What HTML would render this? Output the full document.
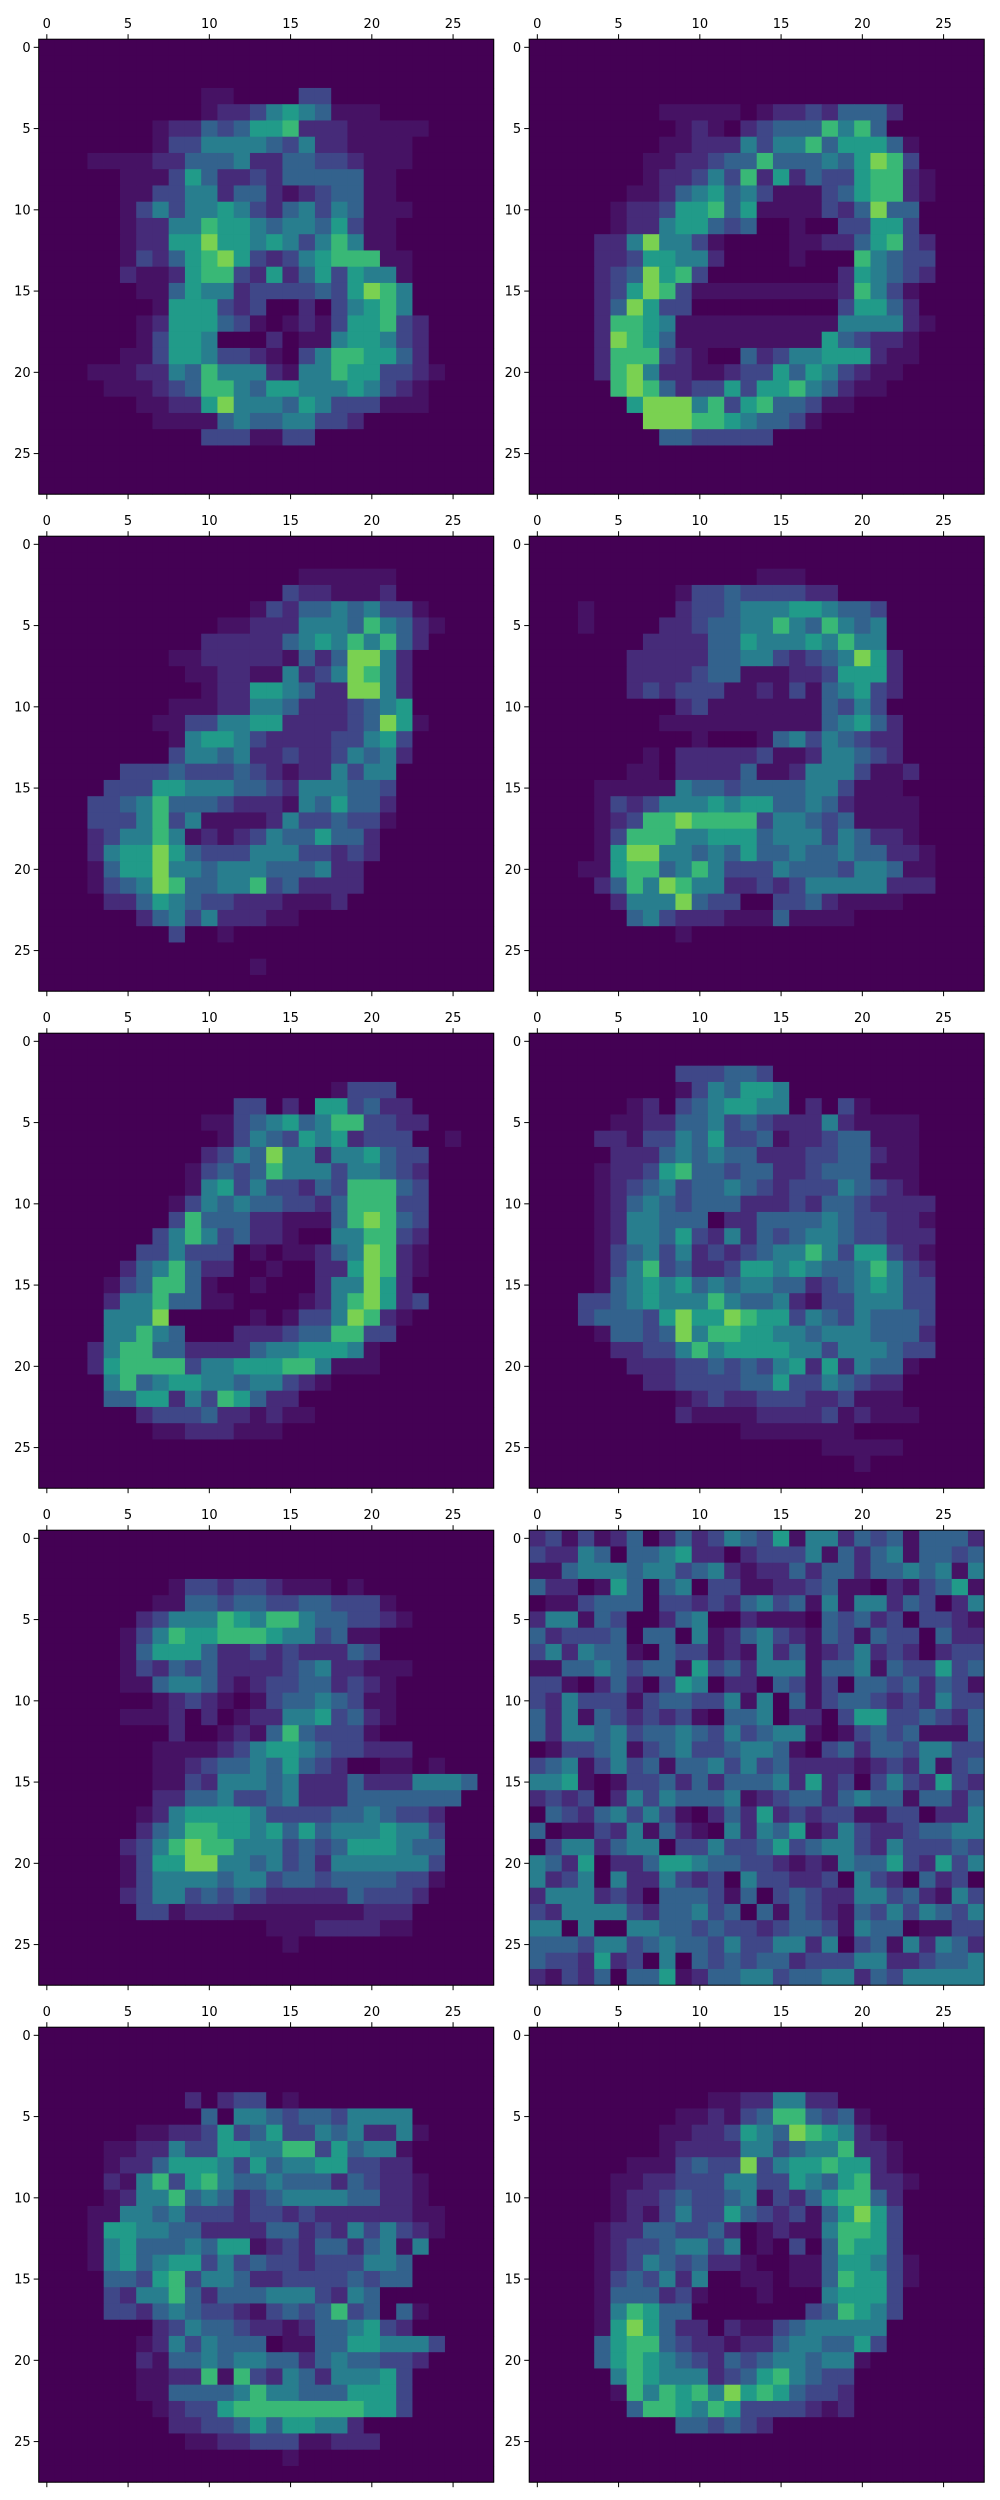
<!DOCTYPE html>
<html><head><meta charset="utf-8"><style>
html,body{margin:0;padding:0;background:#fff;}
svg{display:block;}
text{font-family:"DejaVu Sans","Liberation Sans",sans-serif;font-size:13px;fill:#000;}
</style></head><body>
<svg id="fig" width="1000" height="2500" viewBox="0 0 1000 2500" xmlns="http://www.w3.org/2000/svg"></svg>
<script>
// Pixel intensities (digit levels 0-8) for each 28x28 image, rows top to bottom
const imgA=["","","","0000000000110000330000000000","0000000000122356541110000000","0000000122434667222111110000","0000000133555543522111100000","0001111224445224433211100000","0000011136422324444411000000","0000011335524421234411000000","00000135355653245354111","0000012255766545546311","0000012266866565357511","00000132467863235677711","00000211267732624636551","00000011465523333436875","00000001666323002035675","000000126664310121366732","000000136650002011566532","000001136653321035776642","0001112254755521557663321","000011123477546655565321","000000112268555465333111","00000001111454455332","00000000003331133","","",""];
const imgB=["","","","","00000000111110122324442","0000000001210234447574","000000001122253557466641","000000011223447444546873","0000000122353726243367721","0000001124564531113467721","000001223667461111324844","000001225664340010033663","0000225855310000112246732","0000223665520000100075433","0000234867300000000265432","000023687311111111127531","000024863300000000036642","0000277651111111111555521","000028764111111111643221","000027773210042355666211","00002785221123364653211","0000078742336366754211","00000068885736744311","000000088877654431","000000004433333","","",""];
const imgC=["","","0000000000000000111111","0000000000000003221112","000000000000013244545331","0000000000011222555475421","0000000000222224565757420","00000000112222214248852","000000000112211523587 52".replace(' ',''),"00000000001226654228852","00000000111225542223456","000000011335566222234861","00000000156653222233563","00000000355452232235452","0000033343334321225355","0000333665554432555443","0003345744432221546442","0003335735111125334331","000235575121235446442","000256686433355533232","00014668554555444522","00013458744557342222","0000224654332221112","0000002453522211","000000003001","","0000000000000100",""];
const imgD=["","","00000000000000111","0000000001334333322","0001000002334555665443","0001000022344557547545","0000000222244655565755","00000022222445532345862","00000022223441112236662","00000023233311213145632","0000000002311111114353","00000000111111111145642","00000000001000145354322","00000001022222311255432","000000110222241125553112","00001111154434444553111","000013235556566445421111","000012377877773554341111","000013777556664555354221","0000168855454644544544221","0001167745753335444355411","0000247587552232355555222","00000255584330033421111","00000045322211141111","0000000001","","",""];
const imgE=["","","","0000000000000000001333","00000000000033020663422","000000000011345645773322","00000000000135436562333001","000000000023548552556433","000000000134347555355432","000000000156353324377743","000000001354544332477733","000000003744422111478743","000000035753422100557732","000000335333010112458721","000002457422001002268721","00001347741001000255862","000025574411000012578623","00005558000001013358721","0000557540002223447733","000257744222245566651","000267777355666775111","000057456655455321","0000446625376422","00000023334221211","000000011222111","","",""];
const imgF=["","","000000000333443","0000000001354665","000000120345665502031","000001122445343222521111","000022133546334122344111","000002224545442223344211","000012236744344223444111","000012345344543233354321","0000124543444222324432222","0000125544402244445433221","0000125546325243455433222","0000134535232345575366321","0000135734223665654457532","0000145656454554423456533","0003345655575445213355533","0003444368668766354354443","0000144348577665545554442","0000022335756666553555433","000000222334343562625441","00000002233334463354322","00000000012322333223111","000000000211112222312111","00000000000001111111","00000000000000000011111","000000000000000000001",""];
const imgG=["","","","00000000133233211101","0000000114434433443331","00000023555765775443321","000001357667776553411","000001466642232322243","00000132434222234522111","0000011455421233442321","0000000123210134454311","0000011120201225563421","000000002001214743331","00000001111235665433222","0000000112344546432001101","000000011325554522242225554","00000002244533452224444444","0000001256666533334454332","0000002457766564645556553","0000023578775553434666544","0000013668855453425555553","0000013555545534434444331","000002355343432222243332","00000033122211111111222","00000000000000111222211","000000000000000100","",""];
const imgH=["2313124024235436155243414442","3225404456220233351424514434","1145554553452122424424454515","4220164045033112234110213461","0113444033232453415155243025","2551430024500211104342303321","4233340440512453214314330422","3525441043312152412352320233","1144543441634255514451433634","3310242036502204313044342431","3253331344335150413443232533","4251432323104450220366334324","4255453445435345510134341114","0133451345334554103424435533","3451353414453534222212325134","5561013342424445262303532632","2323025354445123442454414424","0432453531024262323311330225","4011325142105254612532234455","0355245503353346345532533343","5426022466544332121544632635","5235052253230533223053204230","2555232044431403432255342153","3255553244534041432143535435","5505005544343323443154401133","4443553454435335525034152542","4332623050434344233355223445","2132404461244553445524355555"];
const imgI=["","","","","0000000002023301","00000000004055434435555","000000112236346335452251","00001122533665577364551","00001224666536455663322","000021573675445444243221","000012557454234555544221","0001155453332332322222211","0001665544222244232535321","000156444546612324424515","00015645663534332333554","00004436735542233334344","000032557424445553254","000033245433213434734041","00000002354432212445632","0000001253544401144665553","000000214454554424544332","00000011227173254255563","00000011444457554446663","00000001233677777777663","00000000223346466552","000000000112233311222","0000000000000001",""];
const imgJ=["","","","","0000000000011225522","000000000112134774341","0000000011223654876521","00000000122225534557221","00000011134338356676621","000001122333553365467221","00000122343345132467742","00000121353364323146863","00001224433420121157763","00001233455350103047663","000012354342210011466531","000013435250011011476631","00001444231000100056663","00001576440000000347653","0000168642202113455555","0000467743221224554463","000046765432434554551","00000576555234675433","00000175767586764332","00000047765763333212","000000000443432","","",""];
const images=[imgA,imgB,imgC,imgD,imgE,imgF,imgG,imgH,imgI,imgJ];
const xTickLabels=["0","5","10","15","20","25"];
const yTickLabels=["0","5","10","15","20","25"];
const vir=["#440154","#482475","#414487","#355f8d","#2a788e","#21918c","#22a884","#44bf70","#7ad151","#bddf26","#fde725"];
function color(v){const t=Math.max(0,Math.min(1,v))*10;const i=Math.min(9,Math.floor(t));const f=t-i;
 const a=vir[i],b=vir[i+1];const p=s=>[1,3,5].map(k=>parseInt(s.substr(k,2),16));
 const A=p(a),B=p(b);return "rgb("+A.map((c,k)=>Math.round(c+(B[k]-c)*f)).join(",")+")";}
function levelToValue(d){return 0.8*Math.pow(d/8,1.35);}
const NS="http://www.w3.org/2000/svg";
const svg=document.getElementById('fig');
const N=28,S=455;
const cell=S/N;
function mk(tag,attrs,parent){const e=document.createElementNS(NS,tag);for(const k in attrs)e.setAttribute(k,attrs[k]);parent.appendChild(e);return e;}
images.forEach((img,idx)=>{
  const col=idx%2,row=Math.floor(idx/2);
  const x0=col===0?38.7:529.2, y0=39.2+row*497;
  const g=mk('g',{transform:`translate(${x0},${y0})`},svg);
  
  
  const sx=v=>(v+0.5)*cell, sy=v=>(v+0.5)*cell;
  for(let r=0;r<N;r++){
    const s=(img[r]||"").padEnd(N,'0').slice(0,N);
    for(let c=0;c<N;c++){
      const v=levelToValue(parseInt(s[c]));
      const rc=mk('rect',{x:(sx(c)-cell/2).toFixed(2),y:(sy(r)-cell/2).toFixed(2),width:(cell+0.4).toFixed(2),height:(cell+0.4).toFixed(2),fill:color(v)},g);
      
      
    }
  }
  const fr=mk('rect',{x:0,y:0,width:S,height:S,fill:'none',stroke:'#000','stroke-width':1},g);
  
  
  xTickLabels.forEach(l=>{
    const v=+l,x=sx(v);
    mk('line',{x1:x,y1:0,x2:x,y2:-5,stroke:'#000','stroke-width':1},g);
    mk('line',{x1:x,y1:S,x2:x,y2:S+5,stroke:'#000','stroke-width':1},g);
    const t=mk('text',{x:x,y:-11,'text-anchor':'middle'},g);t.textContent=l;
    
    
  });
  yTickLabels.forEach(l=>{
    const v=+l,y=sy(v);
    mk('line',{x1:0,y1:y,x2:-5,y2:y,stroke:'#000','stroke-width':1},g);
    const t=mk('text',{x:-8,y:y+4.5,'text-anchor':'end'},g);t.textContent=l;
    
    
  });
});
</script>
</body></html>
